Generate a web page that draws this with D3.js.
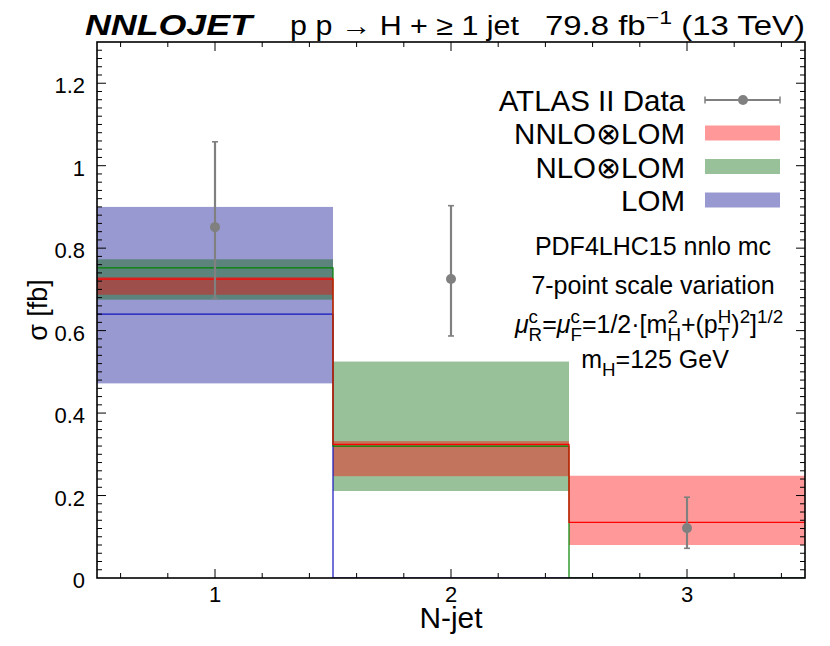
<!DOCTYPE html>
<html lang="en">
<head>
<meta charset="utf-8">
<title>N-jet cross section</title>
<script src="https://cdnjs.cloudflare.com/ajax/libs/d3/7.8.5/d3.min.js"></script>
<style>
  body { margin: 0; background: #fff; }
  svg text { font-family: "Liberation Sans", Arial, sans-serif; fill: #000; }
</style>
</head>
<body>
<div id="chart"></div>
<script>
// bins in N-jet
const binEdges = [0.5, 1.5, 2.5, 3.5];
const binCentres = [1, 2, 3];

// theory predictions (central, low, high)
const lomCentral  = [0.640, 0, 0];
const lomLow      = [0.472, 0, 0];
const lomHigh     = [0.900, 0, 0];
const nloCentral  = [0.752, 0.320, 0];
const nloLow      = [0.675, 0.211, 0];
const nloHigh     = [0.773, 0.525, 0];
const nnloCentral = [0.725, 0.324, 0.135];
const nnloLow     = [0.687, 0.247, 0.080];
const nnloHigh    = [0.730, 0.332, 0.248];

// ATLAS data
const dataValue = [0.851, 0.725, 0.121];
const dataUp    = [1.058, 0.903, 0.196];
const dataDown  = [0.678, 0.587, 0.072];

const xTicks = [1, 2, 3];
const yTicks = [0, 0.2, 0.4, 0.6, 0.8, 1, 1.2];

const W = 830, H = 646;
const m = {left: 97, right: 25, top: 42, bottom: 68};

const svg = d3.select('#chart').append('svg')
  .attr('width', W).attr('height', H);

const x = d3.scaleLinear().domain([0.5, 3.5]).range([m.left, W - m.right]);
const y = d3.scaleLinear().domain([0, 1.3]).range([H - m.bottom, m.top]);

svg.append('clipPath').attr('id', 'clip')
  .append('rect')
  .attr('x', x(0.5)).attr('y', y(1.3))
  .attr('width', x(3.5) - x(0.5)).attr('height', y(0) - y(1.3));

const plot = svg.append('g').attr('clip-path', 'url(#clip)');

const series = [
  {name: 'LOM', c: lomCentral, lo: lomLow, hi: lomHigh, fill: 'rgb(0,0,140)', line: 'rgb(20,20,190)'},
  {name: 'NLO', c: nloCentral, lo: nloLow, hi: nloHigh, fill: 'rgb(0,100,0)', line: 'rgb(0,130,0)'},
  {name: 'NNLO', c: nnloCentral, lo: nnloLow, hi: nnloHigh, fill: 'rgb(255,0,0)', line: 'rgb(255,0,0)'}
];

// bands
series.forEach(s => {
  plot.selectAll(null)
    .data(binCentres.map((b, i) => ({i: i, lo: s.lo[i], hi: s.hi[i]})).filter(d => d.hi > d.lo))
    .enter().append('rect')
    .attr('x', d => x(binEdges[d.i]))
    .attr('width', d => x(binEdges[d.i + 1]) - x(binEdges[d.i]))
    .attr('y', d => y(d.hi))
    .attr('height', d => y(d.lo) - y(d.hi))
    .attr('fill', s.fill)
    .attr('fill-opacity', 0.4);
});

// central step lines
const line = d3.line().x(d => x(d[0])).y(d => y(d[1]));
series.forEach(s => {
  const pts = [];
  s.c.forEach((v, i) => { pts.push([binEdges[i], v]); pts.push([binEdges[i + 1], v]); });
  plot.append('path')
    .attr('d', line(pts))
    .attr('fill', 'none')
    .attr('stroke', s.line)
    .attr('stroke-width', 1.2);
});

// data points
const grey = '#808080';
binCentres.forEach((b, i) => {
  const g = plot.append('g');
  g.append('line').attr('x1', x(b)).attr('x2', x(b))
    .attr('y1', y(dataUp[i])).attr('y2', y(dataDown[i]))
    .attr('stroke', grey).attr('stroke-width', 2.2);
  [dataUp[i], dataDown[i]].forEach(v => {
    g.append('line').attr('x1', x(b) - 3).attr('x2', x(b) + 3)
      .attr('y1', y(v)).attr('y2', y(v))
      .attr('stroke', grey).attr('stroke-width', 1.6);
  });
  g.append('circle').attr('cx', x(b)).attr('cy', y(dataValue[i])).attr('r', 5).attr('fill', grey);
});

// frame and ticks
const axes = svg.append('g');
axes.append('rect')
  .attr('x', x(0.5)).attr('y', y(1.3))
  .attr('width', x(3.5) - x(0.5)).attr('height', y(0) - y(1.3))
  .attr('fill', 'none').attr('stroke', '#000').attr('stroke-width', 1.6);

const xMinor = d3.range(0.6, 3.45, 0.2);
xMinor.forEach(v => {
  const major = Math.abs(v - Math.round(v)) < 1e-6;
  const len = major ? 9 : 5;
  axes.append('line').attr('x1', x(v)).attr('x2', x(v))
    .attr('y1', y(0)).attr('y2', y(0) - len).attr('stroke', '#000').attr('stroke-width', 1);
  axes.append('line').attr('x1', x(v)).attr('x2', x(v))
    .attr('y1', y(1.3)).attr('y2', y(1.3) + len).attr('stroke', '#000').attr('stroke-width', 1);
});
const yMinor = d3.range(0.02, 1.295, 0.02);
yMinor.forEach(v => {
  const major = Math.abs(v * 5 - Math.round(v * 5)) < 1e-6;
  const len = major ? 9 : 5;
  axes.append('line').attr('x1', x(0.5)).attr('x2', x(0.5) + len)
    .attr('y1', y(v)).attr('y2', y(v)).attr('stroke', '#000').attr('stroke-width', 1);
  axes.append('line').attr('x1', x(3.5)).attr('x2', x(3.5) - len)
    .attr('y1', y(v)).attr('y2', y(v)).attr('stroke', '#000').attr('stroke-width', 1);
});

axes.selectAll('.xl').data(xTicks).enter().append('text')
  .attr('x', d => x(d)).attr('y', y(0) + 24)
  .attr('text-anchor', 'middle').attr('font-size', 22)
  .text(d => d);
axes.selectAll('.yl').data(yTicks).enter().append('text')
  .attr('x', x(0.5) - 12).attr('y', d => y(d) + 10)
  .attr('text-anchor', 'end').attr('font-size', 22)
  .text(d => d);

svg.append('text').attr('x', x(2)).attr('y', 628)
  .attr('text-anchor', 'middle').attr('font-size', 30)
  .attr('textLength', 63).attr('lengthAdjust', 'spacingAndGlyphs').text('N-jet');
svg.append('text').attr('transform', 'translate(47,310) rotate(-90)')
  .attr('text-anchor', 'middle').attr('font-size', 27).text('σ [fb]');

// header
svg.append('text').attr('x', 85).attr('y', 35)
  .attr('font-size', 29).attr('font-weight', 'bold').attr('font-style', 'italic')
  .attr('textLength', 167).attr('lengthAdjust', 'spacingAndGlyphs')
  .text('NNLOJET');
svg.append('text').attr('x', 290).attr('y', 35).attr('font-size', 27)
  .attr('textLength', 229).attr('lengthAdjust', 'spacingAndGlyphs')
  .text('p p → H + ≥ 1 jet');
const lum = svg.append('text').attr('x', 545).attr('y', 35).attr('font-size', 27)
  .attr('textLength', 260).attr('lengthAdjust', 'spacingAndGlyphs');
lum.append('tspan').text('79.8 fb');
lum.append('tspan').attr('dy', -11).attr('font-size', 19).text('−1');
lum.append('tspan').attr('dy', 11).text(' (13 TeV)');

// legend
const legendLabels = ['ATLAS II Data', 'NNLO⊗LOM', 'NLO⊗LOM', 'LOM'];
const legendY = [100, 133, 166.5, 200];
legendLabels.forEach((t, i) => {
  svg.append('text').attr('x', 685).attr('y', legendY[i] + 11)
    .attr('text-anchor', 'end').attr('font-size', 29.5).text(t);
});
svg.append('line').attr('x1', 705).attr('x2', 780).attr('y1', legendY[0]).attr('y2', legendY[0])
  .attr('stroke', grey).attr('stroke-width', 2);
[705, 780].forEach(v => svg.append('line').attr('x1', v).attr('x2', v)
  .attr('y1', legendY[0] - 3.5).attr('y2', legendY[0] + 3.5).attr('stroke', grey).attr('stroke-width', 1.5));
svg.append('circle').attr('cx', 743).attr('cy', legendY[0]).attr('r', 5).attr('fill', grey);
[series[2], series[1], series[0]].forEach((s, i) => {
  svg.append('rect').attr('x', 705).attr('y', legendY[i + 1] - 7.5)
    .attr('width', 75).attr('height', 15)
    .attr('fill', s.fill).attr('fill-opacity', 0.4);
});

// annotations
const annoX = 653;
svg.append('text').attr('x', annoX).attr('y', 255).attr('text-anchor', 'middle')
  .attr('font-size', 25).text('PDF4LHC15 nnlo mc');
svg.append('text').attr('x', annoX).attr('y', 294).attr('text-anchor', 'middle')
  .attr('font-size', 25).text('7-point scale variation');

// formula with stacked super/subscripts
function richText(parent, pieces, cx, base, fs) {
  const g = parent.append('g');
  const small = fs * 0.75;
  let cursor = 0;
  pieces.forEach(p => {
    let w = 0;
    if (p.t !== undefined) {
      const el = g.append('text').attr('x', cursor).attr('y', 0).attr('font-size', fs)
        .attr('font-style', p.italic ? 'italic' : null).text(p.t);
      w = el.node().getComputedTextLength();
    }
    cursor += w;
    let w2 = 0;
    if (p.sup) {
      const el = g.append('text').attr('x', cursor).attr('y', -fs * 0.42).attr('font-size', small).text(p.sup);
      w2 = Math.max(w2, el.node().getComputedTextLength());
    }
    if (p.sub) {
      const el = g.append('text').attr('x', cursor).attr('y', fs * 0.3).attr('font-size', small).text(p.sub);
      w2 = Math.max(w2, el.node().getComputedTextLength());
    }
    cursor += w2;
  });
  g.attr('transform', `translate(${cx - cursor / 2},${base})`);
  return g;
}
richText(svg, [
  {t: 'μ', italic: true, sup: 'c', sub: 'R'},
  {t: '='},
  {t: 'μ', italic: true, sup: 'c', sub: 'F'},
  {t: '=1/2·[m', sup: '2', sub: 'H'},
  {t: '+(p', sup: 'H', sub: 'T'},
  {t: ')', sup: '2'},
  {t: ']', sup: '1/2'}
], 649, 333, 25);

richText(svg, [
  {t: 'm', sub: 'H'},
  {t: '=125 GeV'}
], 655, 368, 25);
</script>
</body>
</html>
